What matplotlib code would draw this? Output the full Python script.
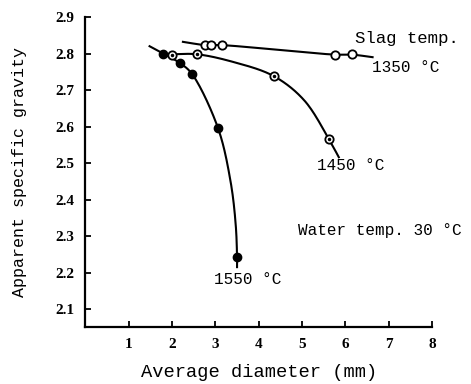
import matplotlib
matplotlib.use("Agg")
import matplotlib.pyplot as plt
import numpy as np

# Traced curve points
c1350_x = [2.25, 2.755, 2.894, 3.15, 4.56, 5.76, 6.15, 6.63]
c1350_y = [2.832, 2.823, 2.823, 2.823, 2.809, 2.797, 2.797, 2.790]
c1450_x = [1.99, 2.57, 3.41, 4.35, 5.05, 5.62, 5.85]
c1450_y = [2.798, 2.798, 2.777, 2.738, 2.672, 2.566, 2.516]
c1550_x = [1.48, 1.79, 2.18, 2.46, 3.06, 3.35, 3.47, 3.50, 3.50]
c1550_y = [2.820, 2.800, 2.774, 2.744, 2.596, 2.450, 2.330, 2.242, 2.215]

# Measured points (markers)
p1350_x = [2.755, 2.894, 3.15, 5.76, 6.15]
p1350_y = [2.823, 2.823, 2.823, 2.797, 2.799]
p1450_x = [1.99, 2.57, 4.35, 5.62]
p1450_y = [2.797, 2.799, 2.738, 2.566]
p1550_x = [1.79, 2.18, 2.46, 3.06, 3.50]
p1550_y = [2.800, 2.774, 2.744, 2.596, 2.242]

xticks = [1, 2, 3, 4, 5, 6, 7, 8]
yticks = [2.1, 2.2, 2.3, 2.4, 2.5, 2.6, 2.7, 2.8, 2.9]

mono = "Liberation Mono"
serif = "Liberation Serif"

fig = plt.figure(figsize=(4.71, 3.84), dpi=100)
ax = fig.add_axes([0.1815, 0.1484, 0.917 - 0.1815, 0.9557 - 0.1484])
ax.set_xlim(0, 8)
ax.set_ylim(2.051, 2.9)


def smooth_draw(xs, ys, **kw):
    """Render a smooth curve through traced points (centripetal Catmull-Rom in display space)."""
    pts = ax.transData.transform(np.column_stack([xs, ys]))
    P = np.vstack([2 * pts[0] - pts[1], pts, 2 * pts[-1] - pts[-2]])
    out = []
    for i in range(1, len(P) - 2):
        p0, p1, p2, p3 = P[i - 1], P[i], P[i + 1], P[i + 2]
        t0 = 0.0
        t1 = t0 + max(np.linalg.norm(p1 - p0), 1e-6) ** 0.5
        t2 = t1 + max(np.linalg.norm(p2 - p1), 1e-6) ** 0.5
        t3 = t2 + max(np.linalg.norm(p3 - p2), 1e-6) ** 0.5
        t = np.linspace(t1, t2, 25)[:, None]
        A1 = (t1 - t) / (t1 - t0) * p0 + (t - t0) / (t1 - t0) * p1
        A2 = (t2 - t) / (t2 - t1) * p1 + (t - t1) / (t2 - t1) * p2
        A3 = (t3 - t) / (t3 - t2) * p2 + (t - t2) / (t3 - t2) * p3
        B1 = (t2 - t) / (t2 - t0) * A1 + (t - t0) / (t2 - t0) * A2
        B2 = (t3 - t) / (t3 - t1) * A2 + (t - t1) / (t3 - t1) * A3
        C = (t2 - t) / (t2 - t1) * B1 + (t - t1) / (t2 - t1) * B2
        out.append(C)
    out = np.vstack(out)
    d = ax.transData.inverted().transform(out)
    ax.plot(d[:, 0], d[:, 1], **kw)


lw = 1.5
smooth_draw(c1350_x, c1350_y, color="black", lw=lw, zorder=2)
smooth_draw(c1450_x, c1450_y, color="black", lw=lw, zorder=2)
smooth_draw(c1550_x, c1550_y, color="black", lw=lw, zorder=2)

ax.plot(p1350_x, p1350_y, "o", ms=6, mfc="white", mec="black", mew=1.3, zorder=3)
ax.plot(p1450_x, p1450_y, "o", ms=6, mfc="white", mec="black", mew=1.3, zorder=3)
ax.plot(p1450_x, p1450_y, "o", ms=1.5, mfc="black", mec="black", zorder=4)
ax.plot(p1550_x, p1550_y, "o", ms=6, mfc="black", mec="black", zorder=3)

ax.set_xlim(0, 8)
ax.set_ylim(2.051, 2.9)
ax.set_xticks(xticks)
ax.set_xticklabels([str(t) for t in xticks], fontfamily=serif, fontweight="bold", fontsize=11)
ax.set_yticks(yticks)
ax.set_yticklabels([f"{t:.1f}" for t in yticks], fontfamily=serif, fontweight="bold", fontsize=11)
ax.tick_params(direction="in", length=4, width=1.3, pad=8)

for s in ["top", "right"]:
    ax.spines[s].set_visible(False)
for s in ["left", "bottom"]:
    ax.spines[s].set_linewidth(1.6)

ax.set_xlabel("Average diameter (mm)", fontfamily=mono, fontsize=13.5, labelpad=9)
ax.set_ylabel("Apparent specific gravity", fontfamily=mono, fontsize=12, labelpad=20)


def ftext(px, py, s, size=11.5):
    fig.text(px / 471, 1 - py / 384, s, fontfamily=mono, fontsize=size, ha="left", va="center")


ftext(355, 38, "Slag temp.", 12.5)
ftext(372, 67, "1350 °C")
ftext(317, 165, "1450 °C")
ftext(214, 280, "1550 °C")
ftext(298, 230, "Water temp. 30 °C")

fig.savefig("out.png", dpi=100)
